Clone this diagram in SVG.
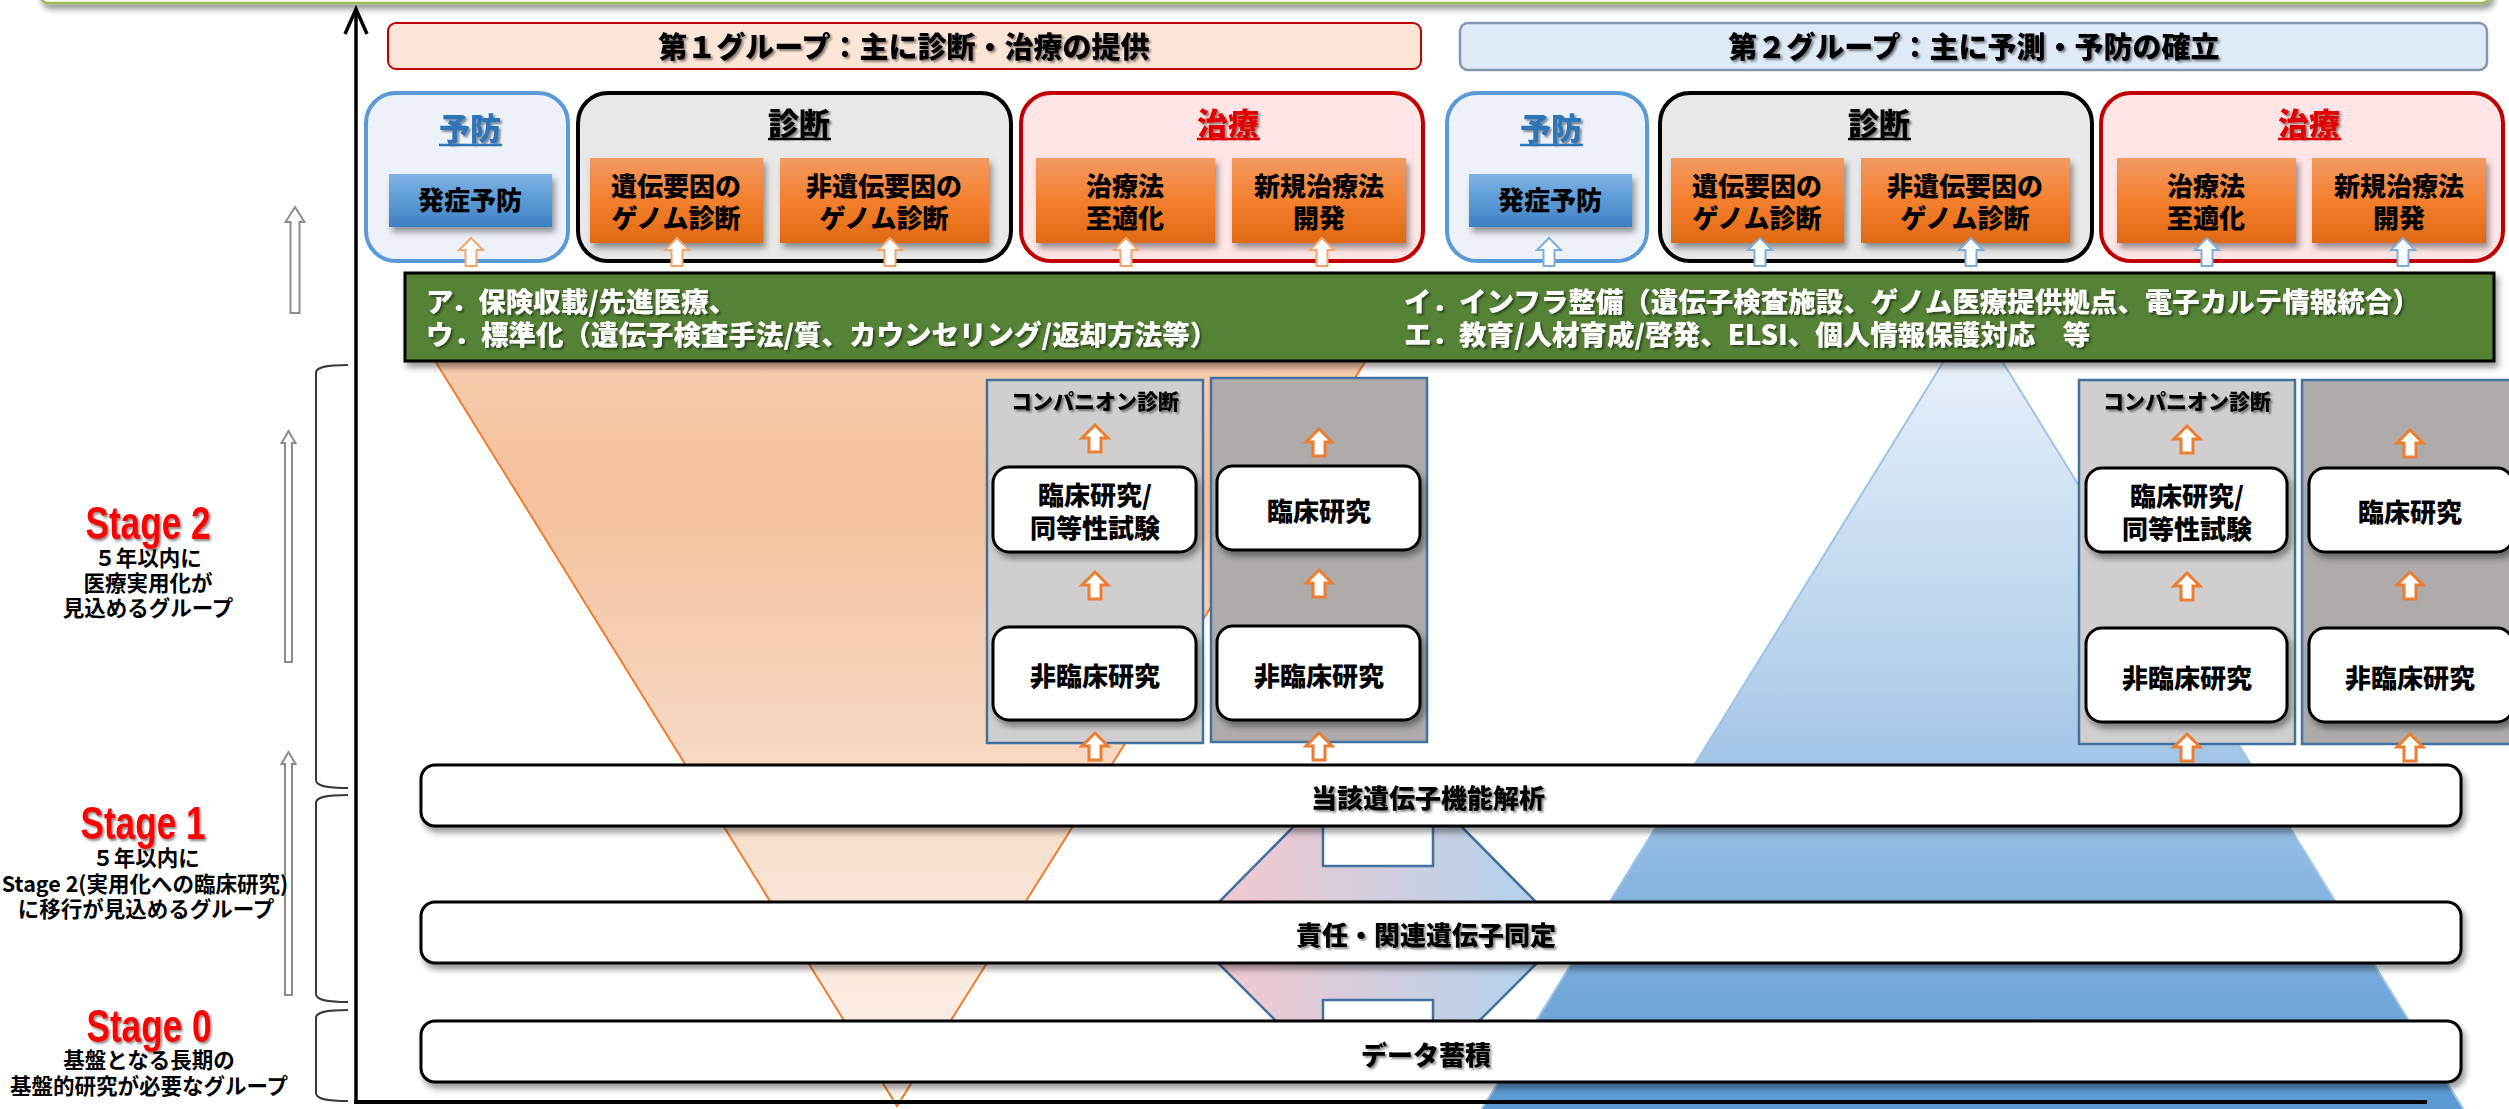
<svg xmlns="http://www.w3.org/2000/svg" xmlns:xlink="http://www.w3.org/1999/xlink" width="2509" height="1109" viewBox="0 0 2509 1109">
<defs>
<style>
.jp{font-family:"Noto Sans CJK JP","Noto Sans CJK SC",sans-serif;font-weight:900;}
.c{text-anchor:middle;}
.hdr{font-size:29px;fill:#000;}
.cat{font-size:31px;}
.inner{font-size:26px;fill:#000;}
.green{font-size:27.5px;fill:#fff;}
.col{font-size:26px;fill:#000;}
.band{font-size:26px;fill:#000;}
.stg{font-family:"Liberation Sans",Arial,sans-serif;font-weight:700;font-size:44px;fill:#FF0000;}
.sub{font-size:21.5px;fill:#000;font-weight:700;}
.wbox{fill:#fff;stroke:#000;stroke-width:3;}
.orbox{fill:url(#gOr);}
.arO{fill:#fff;stroke:#ED7D31;stroke-width:3;}
.arLO{fill:#fff;stroke:#F4A46E;stroke-width:2;}
.arLB{fill:#fff;stroke:#7FAEDC;stroke-width:2;}
.arG{fill:#fff;stroke:#8C8C8C;stroke-width:2;}
.brk{fill:none;stroke:#3A3A3A;stroke-width:2;}
</style>
<filter id="sh" x="-10%" y="-20%" width="120%" height="160%">
<feDropShadow dx="3" dy="5" stdDeviation="3" flood-color="#000" flood-opacity="0.4"/>
</filter>
<filter id="tsh" x="-10%" y="-20%" width="120%" height="160%">
<feDropShadow dx="2" dy="2" stdDeviation="1.2" flood-color="#000" flood-opacity="0.45"/>
</filter>
<linearGradient id="gOr" x1="0" y1="0" x2="0" y2="1">
<stop offset="0" stop-color="#F29A62"/>
<stop offset="0.5" stop-color="#F47F2E"/>
<stop offset="1" stop-color="#E06A14"/>
</linearGradient>
<linearGradient id="gBl" x1="0" y1="0" x2="0" y2="1">
<stop offset="0" stop-color="#7FB2E5"/>
<stop offset="0.5" stop-color="#5B9BD5"/>
<stop offset="1" stop-color="#3F7FC3"/>
</linearGradient>
<linearGradient id="gFun" x1="0" y1="0" x2="0" y2="1">
<stop offset="0" stop-color="#F8CEB1"/>
<stop offset="0.2" stop-color="#F4C19C"/>
<stop offset="0.6" stop-color="#F8DCC9"/>
<stop offset="1" stop-color="#FDF4EE"/>
</linearGradient>
<linearGradient id="gPyr" x1="0" y1="0" x2="0" y2="1">
<stop offset="0" stop-color="#EEF4FB"/>
<stop offset="0.45" stop-color="#B4D0EB"/>
<stop offset="1" stop-color="#5A98D3"/>
</linearGradient>
<linearGradient id="gHex" x1="0" y1="0" x2="1" y2="0">
<stop offset="0" stop-color="#F4C8CE"/>
<stop offset="1" stop-color="#B2D2EE"/>
</linearGradient>
<path id="arC" d="M0,0 L13,13 L6,13 L6,27 L-6,27 L-6,13 L-13,13 Z"/>
<path id="arS" d="M0,0 L12,12 L5.5,12 L5.5,28 L-5.5,28 L-5.5,12 L-12,12 Z"/>
</defs>

<!-- top strip -->
<rect x="40" y="-30" width="2450" height="33" rx="8" fill="#fff" stroke="#9BBB59" stroke-width="2.5" filter="url(#sh)"/>

<!-- background shapes -->
<g id="funnel">
<polygon points="419,335 1382,335 897,1106" fill="url(#gFun)" stroke="#ED7D31" stroke-width="2"/>
</g>
<g id="pyramid">
<polygon points="1973,314 1478,1115 2467,1115" fill="url(#gPyr)" stroke="#9DC3E6" stroke-width="2"/>
</g>
<g id="hexlink">
<polygon points="1300,820 1455,820 1537,903 1537,963 1478,1022 1277,1022 1218,963 1218,903" fill="url(#gHex)" stroke="#41719C" stroke-width="2.5"/>
<rect x="1323" y="820" width="110" height="46" fill="#fff" stroke="#41719C" stroke-width="2.5"/>
<rect x="1323" y="1000" width="110" height="30" fill="#fff" stroke="#41719C" stroke-width="2.5"/>
</g>

<!-- green bar -->
<g id="measures">
<rect x="405" y="273" width="2089" height="88" fill="#548235" stroke="#000" stroke-width="3" filter="url(#sh)"/>
<g class="jp green" filter="url(#tsh)">
<text x="426" y="312">ア．保険収載/先進医療、</text>
<text x="426" y="345">ウ．標準化（遺伝子検査手法/質、カウンセリング/返却方法等）</text>
<text x="1404" y="312">イ．インフラ整備（遺伝子検査施設、ゲノム医療提供拠点、電子カルテ情報統合）</text>
<text x="1404" y="345">エ．教育/人材育成/啓発、ELSI、個人情報保護対応　等</text>
</g>
</g>

<!-- Stage 2 columns G1 -->
<g id="g1-companion">
<rect x="987" y="380" width="216" height="363" fill="#D0CECE" stroke="#41719C" stroke-width="2.5"/>
<text class="jp c" x="1095" y="409" font-size="21" filter="url(#tsh)">コンパニオン診断</text>
<rect class="wbox" x="993" y="467" width="203" height="85" rx="16" filter="url(#sh)"/>
<text class="jp c col" x="1095" y="505">臨床研究/</text>
<text class="jp c col" x="1095" y="538">同等性試験</text>
<rect class="wbox" x="993" y="627" width="203" height="93" rx="16" filter="url(#sh)"/>
<text class="jp c col" x="1095" y="686">非臨床研究</text>
</g>
<g id="g1-therapy">
<rect x="1211" y="378" width="216" height="364" fill="#AFABAB" stroke="#41719C" stroke-width="2.5"/>
<rect class="wbox" x="1217" y="466" width="203" height="84" rx="16" filter="url(#sh)"/>
<text class="jp c col" x="1319" y="521">臨床研究</text>
<rect class="wbox" x="1217" y="626" width="203" height="94" rx="16" filter="url(#sh)"/>
<text class="jp c col" x="1319" y="686">非臨床研究</text>
</g>
<!-- Stage 2 columns G2 -->
<g id="g2-companion">
<rect x="2079" y="380" width="216" height="364" fill="#D0CECE" stroke="#41719C" stroke-width="2.5"/>
<text class="jp c" x="2187" y="409" font-size="21" filter="url(#tsh)">コンパニオン診断</text>
<rect class="wbox" x="2086" y="468" width="201" height="84" rx="16" filter="url(#sh)"/>
<text class="jp c col" x="2187" y="506">臨床研究/</text>
<text class="jp c col" x="2187" y="539">同等性試験</text>
<rect class="wbox" x="2086" y="628" width="201" height="94" rx="16" filter="url(#sh)"/>
<text class="jp c col" x="2187" y="688">非臨床研究</text>
</g>
<g id="g2-therapy">
<rect x="2302" y="380" width="230" height="364" fill="#AFABAB" stroke="#41719C" stroke-width="2.5"/>
<rect class="wbox" x="2309" y="468" width="204" height="84" rx="16" filter="url(#sh)"/>
<text class="jp c col" x="2410" y="522">臨床研究</text>
<rect class="wbox" x="2309" y="628" width="204" height="94" rx="16" filter="url(#sh)"/>
<text class="jp c col" x="2410" y="688">非臨床研究</text>
</g>

<!-- connectors -->
<g id="connectors">
<use href="#arC" class="arO" x="1095" y="425"/>
<use href="#arC" class="arO" x="1095" y="572"/>
<use href="#arC" class="arO" x="1095" y="733"/>
<use href="#arC" class="arO" x="1319" y="429"/>
<use href="#arC" class="arO" x="1319" y="570"/>
<use href="#arC" class="arO" x="1319" y="733"/>
<use href="#arC" class="arO" x="2187" y="426"/>
<use href="#arC" class="arO" x="2187" y="573"/>
<use href="#arC" class="arO" x="2187" y="734"/>
<use href="#arC" class="arO" x="2410" y="430"/>
<use href="#arC" class="arO" x="2410" y="572"/>
<use href="#arC" class="arO" x="2410" y="734"/>
<path class="arG" d="M295,207 L304.5,222 L299.5,222 L299.5,313 L290.5,313 L290.5,222 L285.5,222 Z"/>
<path class="arG" d="M288.5,431 L295.5,443 L292,443 L292,662 L285,662 L285,443 L281.5,443 Z"/>
<path class="arG" d="M288.5,752 L295.5,764 L292,764 L292,995 L285,995 L285,764 L281.5,764 Z"/>
</g>

<!-- bands -->
<g id="band-func">
<rect class="wbox" x="421" y="765" width="2040" height="61" rx="14" filter="url(#sh)"/>
<text class="jp c band" x="1428" y="808" filter="url(#tsh)">当該遺伝子機能解析</text>
</g>
<g id="band-ident">
<rect class="wbox" x="421" y="902" width="2040" height="61" rx="14" filter="url(#sh)"/>
<text class="jp c band" x="1426" y="945" filter="url(#tsh)">責任・関連遺伝子同定</text>
</g>
<g id="band-data">
<rect class="wbox" x="421" y="1021" width="2040" height="61" rx="14" filter="url(#sh)"/>
<text class="jp c band" x="1426" y="1065" filter="url(#tsh)">データ蓄積</text>
</g>

<!-- axes -->
<g id="axes" fill="none" stroke="#000">
<line x1="356" y1="1102" x2="356" y2="11" stroke-width="3.5"/>
<polyline points="345,34 356,9 367,34" stroke-width="3.5"/>
<line x1="354" y1="1102" x2="2427" y2="1102" stroke-width="4"/>
</g>

<!-- brackets -->
<g id="brackets">
<path class="brk" d="M348,365 C326,365 316,367 316,373 L316,780 C316,786 326,788 348,788"/>
<path class="brk" d="M348,795 C326,795 316,797 316,803 L316,994 C316,1000 326,1002 348,1002"/>
<path class="brk" d="M348,1010 C326,1010 316,1012 316,1018 L316,1093 C316,1099 326,1101 348,1101"/>
</g>

<!-- stage labels -->
<g id="stage2">
<text class="stg c" transform="translate(148,539) scale(0.8,1.05)" filter="url(#tsh)">Stage 2</text>
<text class="jp c sub" x="148" y="566">５年以内に</text>
<text class="jp c sub" x="148" y="591">医療実用化が</text>
<text class="jp c sub" x="148" y="616">見込めるグループ</text>
</g>
<g id="stage1">
<text class="stg c" transform="translate(143,839) scale(0.8,1.05)" filter="url(#tsh)">Stage 1</text>
<text class="jp c sub" x="146" y="866">５年以内に</text>
<text class="jp c sub" x="145" y="892">Stage 2(実用化への臨床研究)</text>
<text class="jp c sub" x="146" y="917">に移行が見込めるグループ</text>
</g>
<g id="stage0">
<text class="stg c" transform="translate(149,1042) scale(0.8,1.05)" filter="url(#tsh)">Stage 0</text>
<text class="jp c sub" x="149" y="1068">基盤となる長期の</text>
<text class="jp c sub" x="149" y="1094">基盤的研究が必要なグループ</text>
</g>

<!-- headers -->
<g id="header-g1">
<rect x="388" y="23" width="1033" height="46" rx="8" fill="#FBE5D6" stroke="#C00000" stroke-width="2"/>
<text class="jp c hdr" x="904" y="58" filter="url(#tsh)">第１グループ：主に診断・治療の提供</text>
</g>
<g id="header-g2">
<rect x="1460" y="23" width="1027" height="47" rx="8" fill="#DEEBF7" stroke="#8497B0" stroke-width="2.5"/>
<text class="jp c hdr" x="1974" y="58" filter="url(#tsh)">第２グループ：主に予測・予防の確立</text>
</g>

<!-- G1 categories -->
<g id="g1-prevent">
<rect x="366" y="93" width="202" height="168" rx="30" fill="#EDF2FA" stroke="#5B9BD5" stroke-width="4"/>
<text class="jp c cat" x="470" y="140" fill="#2E75B6" filter="url(#tsh)">予防</text>
<line x1="439" y1="145" x2="502" y2="145" stroke="#2E75B6" stroke-width="2.5"/>
<rect x="389" y="174" width="163" height="53" fill="url(#gBl)" filter="url(#sh)"/>
<text class="jp c inner" x="470" y="210">発症予防</text>
</g>
<g id="g1-diag">
<rect x="578" y="93" width="433" height="168" rx="30" fill="#E8E8E8" stroke="#000" stroke-width="4"/>
<text class="jp c cat" x="799" y="135" fill="#000" filter="url(#tsh)">診断</text>
<line x1="768" y1="139" x2="831" y2="139" stroke="#000" stroke-width="2.5"/>
<rect class="orbox" x="590" y="158" width="173" height="85" filter="url(#sh)"/>
<text class="jp c inner" x="676" y="196">遺伝要因の</text>
<text class="jp c inner" x="676" y="228">ゲノム診断</text>
<rect class="orbox" x="780" y="158" width="209" height="85" filter="url(#sh)"/>
<text class="jp c inner" x="884" y="196">非遺伝要因の</text>
<text class="jp c inner" x="884" y="228">ゲノム診断</text>
</g>
<g id="g1-treat">
<rect x="1021" y="93" width="402" height="168" rx="30" fill="#FFE5E6" stroke="#C00000" stroke-width="4"/>
<text class="jp c cat" x="1228" y="135" fill="#E00000" filter="url(#tsh)">治療</text>
<line x1="1197" y1="139" x2="1260" y2="139" stroke="#E00000" stroke-width="2.5"/>
<rect class="orbox" x="1036" y="158" width="179" height="85" filter="url(#sh)"/>
<text class="jp c inner" x="1125" y="196">治療法</text>
<text class="jp c inner" x="1125" y="228">至適化</text>
<rect class="orbox" x="1232" y="158" width="174" height="85" filter="url(#sh)"/>
<text class="jp c inner" x="1319" y="196">新規治療法</text>
<text class="jp c inner" x="1319" y="228">開発</text>
</g>
<!-- G2 categories -->
<g id="g2-prevent">
<rect x="1447" y="93" width="200" height="168" rx="30" fill="#EDF2FA" stroke="#5B9BD5" stroke-width="4"/>
<text class="jp c cat" x="1551" y="140" fill="#2E75B6" filter="url(#tsh)">予防</text>
<line x1="1520" y1="145" x2="1583" y2="145" stroke="#2E75B6" stroke-width="2.5"/>
<rect x="1469" y="174" width="163" height="53" fill="url(#gBl)" filter="url(#sh)"/>
<text class="jp c inner" x="1550" y="210">発症予防</text>
</g>
<g id="g2-diag">
<rect x="1660" y="93" width="432" height="168" rx="30" fill="#E8E8E8" stroke="#000" stroke-width="4"/>
<text class="jp c cat" x="1879" y="135" fill="#000" filter="url(#tsh)">診断</text>
<line x1="1848" y1="139" x2="1911" y2="139" stroke="#000" stroke-width="2.5"/>
<rect class="orbox" x="1671" y="158" width="173" height="85" filter="url(#sh)"/>
<text class="jp c inner" x="1757" y="196">遺伝要因の</text>
<text class="jp c inner" x="1757" y="228">ゲノム診断</text>
<rect class="orbox" x="1861" y="158" width="209" height="85" filter="url(#sh)"/>
<text class="jp c inner" x="1965" y="196">非遺伝要因の</text>
<text class="jp c inner" x="1965" y="228">ゲノム診断</text>
</g>
<g id="g2-treat">
<rect x="2101" y="93" width="402" height="168" rx="30" fill="#FFE5E6" stroke="#C00000" stroke-width="4"/>
<text class="jp c cat" x="2309" y="135" fill="#E00000" filter="url(#tsh)">治療</text>
<line x1="2278" y1="139" x2="2341" y2="139" stroke="#E00000" stroke-width="2.5"/>
<rect class="orbox" x="2117" y="158" width="179" height="85" filter="url(#sh)"/>
<text class="jp c inner" x="2206" y="196">治療法</text>
<text class="jp c inner" x="2206" y="228">至適化</text>
<rect class="orbox" x="2312" y="158" width="174" height="85" filter="url(#sh)"/>
<text class="jp c inner" x="2399" y="196">新規治療法</text>
<text class="jp c inner" x="2399" y="228">開発</text>
</g>

<!-- small arrows under categories -->
<g id="cat-arrows">
<use href="#arS" class="arLO" x="471" y="238"/>
<use href="#arS" class="arLO" x="677" y="238"/>
<use href="#arS" class="arLO" x="890" y="238"/>
<use href="#arS" class="arLO" x="1126" y="238"/>
<use href="#arS" class="arLO" x="1322" y="238"/>
<use href="#arS" class="arLB" x="1549" y="238"/>
<use href="#arS" class="arLB" x="1760" y="238"/>
<use href="#arS" class="arLB" x="1971" y="238"/>
<use href="#arS" class="arLB" x="2207" y="238"/>
<use href="#arS" class="arLB" x="2403" y="238"/>
</g>
</svg>
